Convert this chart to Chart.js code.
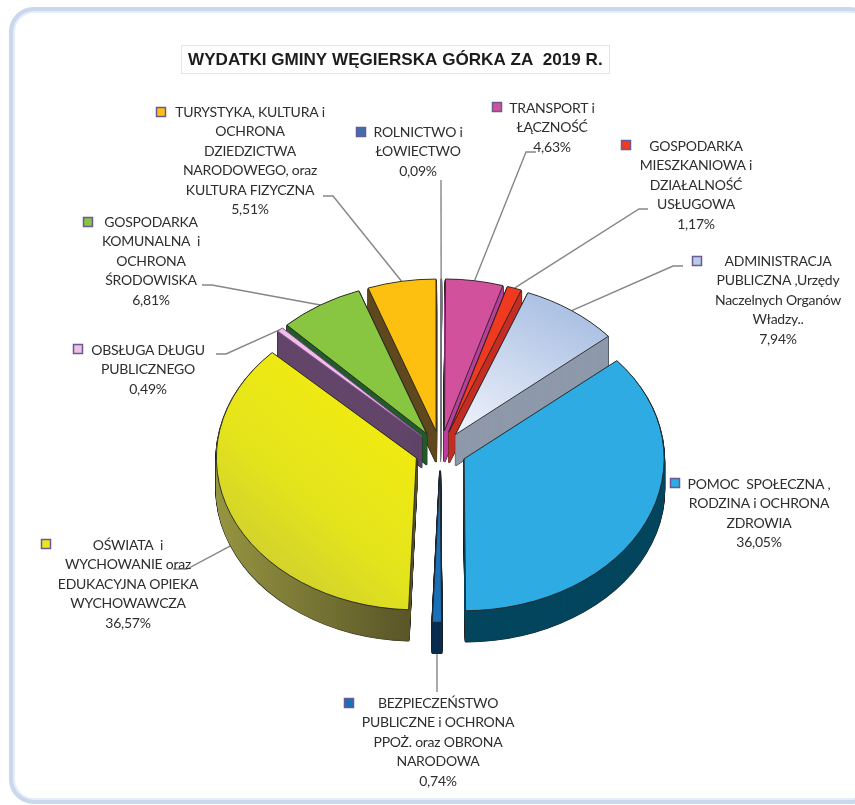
<!DOCTYPE html>
<html lang="pl">
<head>
<meta charset="utf-8">
<title>Wydatki gminy</title>
<script src="https://cdn.jsdelivr.net/npm/chart.js@4"></script>
<style>
    html, body { margin: 0; padding: 0; background: #fff; overflow: hidden; }
    canvas { display: block; }
</style>
</head>
<body>
<canvas id="wydatkiChart" width="855" height="805"></canvas>
<script>
// Dane wykresu
const chartTitle = 'WYDATKI GMINY WĘGIERSKA GÓRKA ZA  2019 R.';
const categories = [
    'ROLNICTWO i ŁOWIECTWO',
    'TRANSPORT i ŁĄCZNOŚĆ',
    'GOSPODARKA MIESZKANIOWA i DZIAŁALNOŚĆ USŁUGOWA',
    'ADMINISTRACJA PUBLICZNA ,Urzędy Naczelnych Organów Władzy..',
    'POMOC SPOŁECZNA , RODZINA i OCHRONA ZDROWIA',
    'BEZPIECZEŃSTWO PUBLICZNE i OCHRONA PPOŻ. oraz OBRONA NARODOWA',
    'OŚWIATA i WYCHOWANIE oraz EDUKACYJNA OPIEKA WYCHOWAWCZA',
    'OBSŁUGA DŁUGU PUBLICZNEGO',
    'GOSPODARKA KOMUNALNA i OCHRONA ŚRODOWISKA',
    'TURYSTYKA, KULTURA i OCHRONA DZIEDZICTWA NARODOWEGO, oraz KULTURA FIZYCZNA'
];
const values = [0.09, 4.63, 1.17, 7.94, 36.05, 0.74, 36.57, 0.49, 6.81, 5.51];

// Podział etykiet na wiersze
const labelLines = [
    ['ROLNICTWO i', 'ŁOWIECTWO'],
    ['TRANSPORT i', 'ŁĄCZNOŚĆ'],
    ['GOSPODARKA', 'MIESZKANIOWA i', 'DZIAŁALNOŚĆ', 'USŁUGOWA'],
    ['ADMINISTRACJA', 'PUBLICZNA ,Urzędy', 'Naczelnych Organów', 'Władzy..'],
    ['POMOC  SPOŁECZNA ,', 'RODZINA i OCHRONA', 'ZDROWIA'],
    ['BEZPIECZEŃSTWO', 'PUBLICZNE i OCHRONA', 'PPOŻ. oraz OBRONA', 'NARODOWA'],
    ['OŚWIATA  i', 'WYCHOWANIE oraz', 'EDUKACYJNA OPIEKA', 'WYCHOWAWCZA'],
    ['OBSŁUGA DŁUGU', 'PUBLICZNEGO'],
    ['GOSPODARKA', 'KOMUNALNA  i', 'OCHRONA', 'ŚRODOWISKA'],
    ['TURYSTYKA, KULTURA i', 'OCHRONA', 'DZIEDZICTWA', 'NARODOWEGO, oraz', 'KULTURA FIZYCZNA']
];

// Kolory
const topColors = ['#3f6fad', '#d2519c', '#f03a20', '#b9cbe8', '#2fabe3', '#1a70b8', '#e8e81a', '#f0bfe6', '#88c540', '#fdc010'];
const sideColors = ['#777777', '#b93f9c', '#c52e23', '#8e99ab', '#04465e', '#0a2c4e', '#7a7a32', '#63466a', '#245a2c', '#60491e'];
const edgeColors = ['#777777', '#222222', '#222222', '#222222', '#222222', '#222222', '#222222', '#8e4fa0', '#222222', '#222222'];

// Położenie etykiet: środek tekstu, y pierwszego wiersza, znacznik legendy, załamanie linii
const labelX = [418, 552, 696, 778, 759, 438, 128, 148, 151, 250];
const labelY = [132, 108, 146, 261, 484, 703, 545, 350, 222, 112];
const markerX = [356, 492, 621, 692, 670, 344, 41, 73, 83, 156];
const markerY = [127, 102, 140, 256, 478, 698, 539, 344, 217, 107];
const elbows = [
    [[441, 180]],
    [[536, 152], [526, 152]],
    [[648, 209], [639, 209]],
    [[683, 266], [673, 266]],
    null,
    [[437, 692]],
    [[173, 569], [187, 569]],
    [[216, 354], [226, 354]],
    [[202, 285], [212, 285]],
    [[323, 196], [333, 196]]
];

const SQUASH = 0.76;    // spłaszczenie elipsy
const DEPTH = 31;       // grubość tortu
const EXPLODE = 26;     // odsunięcie wycinków
const LINE_HEIGHT = 19.5;

function sliceShift(el) {
    const mid = (el.startAngle + el.endAngle) / 2;
    return { mid, x: Math.cos(mid) * EXPLODE, y: Math.sin(mid) * EXPLODE * SQUASH };
}

// Rysuje wycinek w przestrzeni spłaszczonej, z przesunięciem w dół o dy
function drawSlice(ctx, el, dy, overrides) {
    const shift = sliceShift(el);
    const saved = el.options;
    ctx.save();
    ctx.translate(el.x + shift.x, el.y + shift.y + dy);
    ctx.scale(1, SQUASH);
    ctx.translate(-el.x, -el.y);
    el.options = Object.assign({}, saved, overrides);
    el.draw(ctx);
    el.options = saved;
    ctx.restore();
}

function sideFill(ctx, el, index) {
    if (index !== 6) return sideColors[index];
    const grad = ctx.createLinearGradient(el.x - 200, 0, el.x, 0);
    grad.addColorStop(0, '#959541');
    grad.addColorStop(1, '#585326');
    return grad;
}

function topFill(ctx, el, index) {
    if (index === 6) {
        const grad = ctx.createLinearGradient(el.x - 190, el.y + 170, el.x, el.y);
        grad.addColorStop(0, '#c8c836');
        grad.addColorStop(0.55, '#e4e41c');
        grad.addColorStop(1, '#f0ea12');
        return grad;
    }
    if (index === 3) {
        const grad = ctx.createLinearGradient(el.x, el.y, el.x + 110, el.y - 160);
        grad.addColorStop(0, '#f0f3fb');
        grad.addColorStop(1, '#adc2e4');
        return grad;
    }
    return topColors[index];
}

const pie3dPlugin = {
    id: 'pie3d',
    beforeDraw(chart) {
        const ctx = chart.ctx;
        ctx.save();
        ctx.fillStyle = '#fff';
        ctx.fillRect(0, 0, chart.width, chart.height);
        // Ramka
        ctx.beginPath();
        ctx.roundRect(11.5, 9.5, 860, 792, 22);
        ctx.lineWidth = 5;
        ctx.strokeStyle = '#c9d8ec';
        ctx.stroke();
        ctx.beginPath();
        ctx.roundRect(14, 12, 856, 787, 20);
        ctx.lineWidth = 2;
        ctx.strokeStyle = '#e6edf7';
        ctx.stroke();
        // Tytuł
        ctx.fillStyle = '#fff';
        ctx.strokeStyle = '#e4e4e4';
        ctx.lineWidth = 1;
        ctx.fillRect(181.5, 45.5, 428, 28);
        ctx.strokeRect(181.5, 45.5, 428, 28);
        ctx.fillStyle = '#1c1c1c';
        ctx.font = 'bold 17.1px "Liberation Sans"';
        ctx.textAlign = 'left';
        ctx.textBaseline = 'middle';
        ctx.fillText(chartTitle, 188, 60);
        ctx.restore();
    },
    beforeDatasetsDraw(chart) {
        const ctx = chart.ctx;
        const arcs = chart.getDatasetMeta(0).data;

        // Linie odniesienia pod tortem
        arcs.forEach((el, i) => {
            if (!elbows[i]) return;
            const shift = sliceShift(el);
            const r = el.outerRadius + EXPLODE;
            const endX = el.x + Math.cos(shift.mid) * r;
            const onSide = Math.sin(shift.mid) > 0.2 ? DEPTH : 0;
            const endY = el.y + Math.sin(shift.mid) * r * SQUASH + onSide;
            ctx.save();
            ctx.beginPath();
            elbows[i].forEach(([x, y], k) => k === 0 ? ctx.moveTo(x, y) : ctx.lineTo(x, y));
            ctx.lineTo(endX, endY);
            ctx.strokeStyle = '#868686';
            ctx.lineWidth = 1.4;
            ctx.stroke();
            ctx.restore();
        });

        // Od tyłu do przodu
        const order = arcs.map((el, i) => i)
            .sort((a, b) => Math.sin(sliceShift(arcs[a]).mid) - Math.sin(sliceShift(arcs[b]).mid));
        order.forEach(i => {
            const el = arcs[i];
            const side = sideFill(ctx, el, i);
            // Najcieńszy wycinek to właściwie sama linia
            if (values[i] >= 0.3) {
                for (let d = DEPTH; d >= 1; d--) {
                    drawSlice(ctx, el, d, { backgroundColor: '#222222', borderColor: '#222222', borderWidth: 2 });
                }
            }
            for (let d = DEPTH; d >= 1; d--) {
                drawSlice(ctx, el, d, { backgroundColor: side, borderColor: side, borderWidth: 1 });
            }
            drawSlice(ctx, el, 0, { backgroundColor: topFill(ctx, el, i) });
        });

        // Etykiety i znaczniki
        ctx.save();
        ctx.textAlign = 'center';
        ctx.textBaseline = 'middle';
        ctx.font = '14px Lato';
        ctx.letterSpacing = '-0.25px';
        categories.forEach((name, i) => {
            ctx.fillStyle = topColors[i];
            ctx.strokeStyle = '#6a5a94';
            ctx.lineWidth = 1.5;
            ctx.fillRect(markerX[i] + 0.5, markerY[i] + 0.5, 9, 9);
            ctx.strokeRect(markerX[i] + 0.5, markerY[i] + 0.5, 9, 9);
            ctx.fillStyle = '#2e2e2e';
            const lines = labelLines[i].concat(values[i].toFixed(2).replace('.', ',') + '%');
            lines.forEach((line, k) => {
                ctx.fillText(line, labelX[i], labelY[i] + k * LINE_HEIGHT);
            });
        });
        ctx.restore();
        return false;
    }
};

new Chart(document.getElementById('wydatkiChart'), {
    type: 'pie',
    data: {
        labels: categories,
        datasets: [{
            data: values,
            backgroundColor: topColors,
            borderColor: edgeColors,
            borderWidth: 1
        }]
    },
    options: {
        responsive: false,
        animation: false,
        layout: { padding: { left: 240, right: 214, top: 250, bottom: 154 } },
        plugins: {
            legend: { display: false },
            title: { display: false },
            tooltip: { enabled: false }
        }
    },
    plugins: [pie3dPlugin]
});
</script>
</body>
</html>
